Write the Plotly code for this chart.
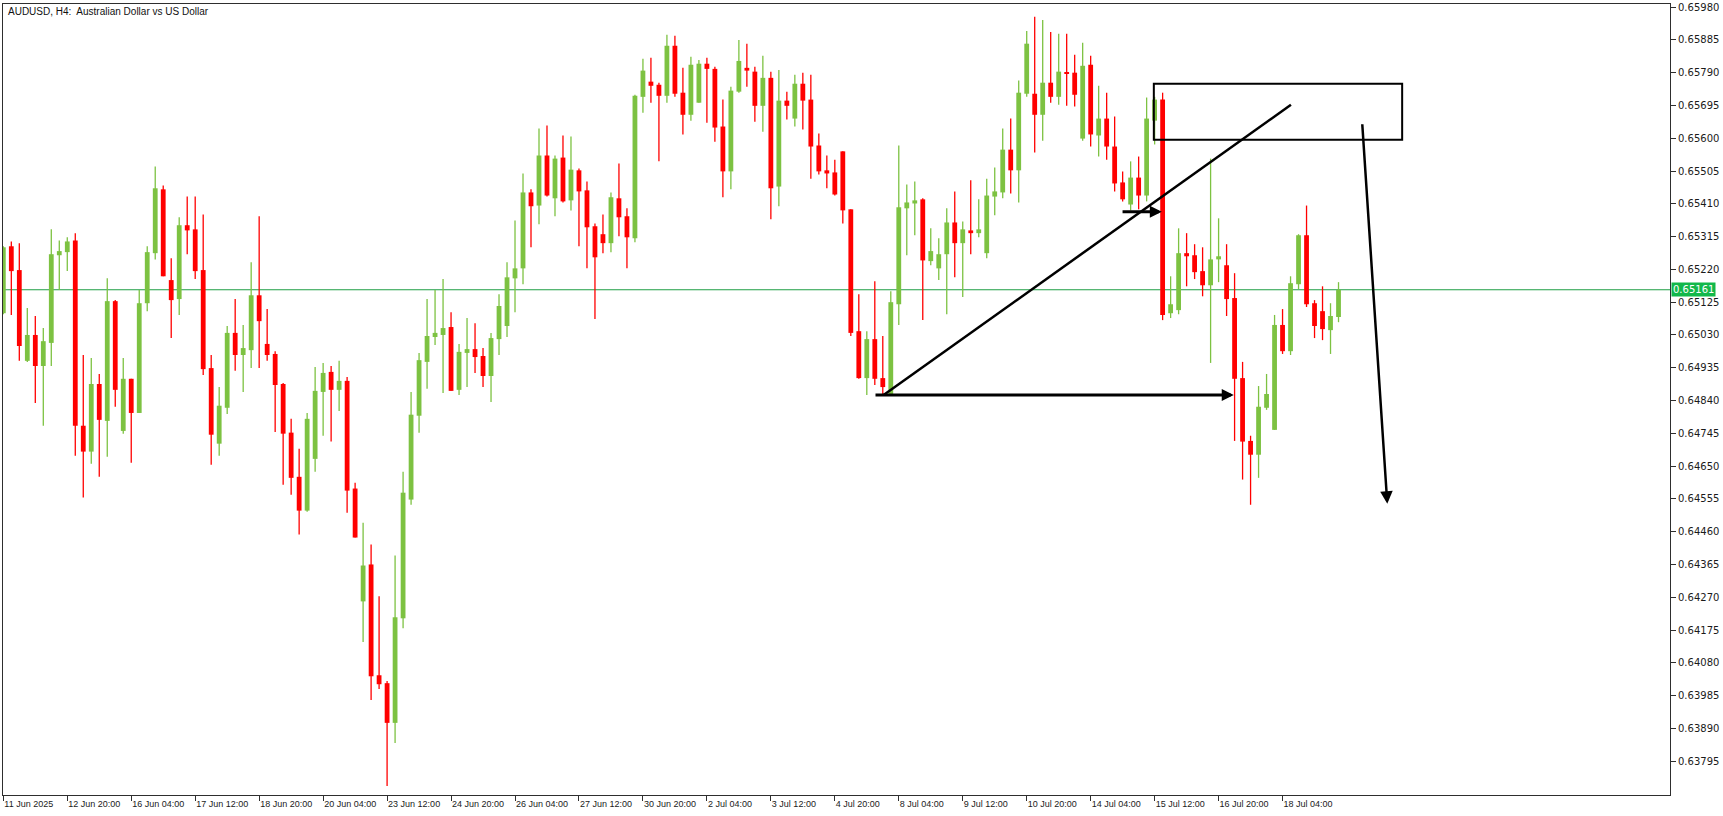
import plotly.graph_objects as go

title_text = "AUDUSD, H4:  Australian Dollar vs US Dollar"

opens = [0.65093, 0.65287, 0.65218, 0.64955, 0.65030, 0.64940, 0.65007, 0.65261, 0.65270, 0.65304,
         0.64767, 0.64692, 0.64888, 0.64781, 0.65128, 0.64752, 0.64903, 0.64804, 0.65122, 0.65267,
         0.65452, 0.65189, 0.65134, 0.65348, 0.65336, 0.65218, 0.64934, 0.64715, 0.64819, 0.65036,
         0.64972, 0.64986, 0.65145, 0.65004, 0.64975, 0.64888, 0.64747, 0.64619, 0.64521, 0.64671,
         0.64865, 0.64923, 0.64871, 0.64897, 0.64585, 0.64258, 0.64365, 0.64044, 0.64021, 0.63906,
         0.64209, 0.64553, 0.64796, 0.64952, 0.65024, 0.65030, 0.65053, 0.64871, 0.64978, 0.64989,
         0.64969, 0.64911, 0.65018, 0.65056, 0.65194, 0.65223, 0.65443, 0.65405, 0.65550, 0.65426,
         0.65544, 0.65420, 0.65507, 0.65449, 0.65345, 0.65322, 0.65296, 0.65426, 0.65374, 0.65310,
         0.65720, 0.65764, 0.65755, 0.65723, 0.65868, 0.65732, 0.65668, 0.65703, 0.65816, 0.65801,
         0.65634, 0.65504, 0.65735, 0.65804, 0.65793, 0.65694, 0.65775, 0.65460, 0.65709, 0.65657,
         0.65758, 0.65712, 0.65579, 0.65507, 0.65501, 0.65562, 0.65394, 0.65041, 0.64905, 0.65018,
         0.64905, 0.64859, 0.65119, 0.65397, 0.65411, 0.65423, 0.65244, 0.65223, 0.65264, 0.65356,
         0.65296, 0.65333, 0.65325, 0.65267, 0.65431, 0.65443, 0.65567, 0.65507, 0.65729, 0.65729,
         0.65668, 0.65761, 0.65720, 0.65790, 0.65790, 0.65599, 0.65813, 0.65608, 0.65657, 0.65576,
         0.65472, 0.65408, 0.65486, 0.65434, 0.65651, 0.65712, 0.65093, 0.65102, 0.65267, 0.65261,
         0.65215, 0.65174, 0.65249, 0.65232, 0.65137, 0.64905, 0.64723, 0.64683, 0.64819, 0.64755,
         0.65059, 0.64983, 0.65177, 0.65319, 0.65122, 0.65099, 0.65044, 0.65082]

highs = [0.65287, 0.65301, 0.65296, 0.65108, 0.65085, 0.65050, 0.65336, 0.65304, 0.65313, 0.65325,
         0.64972, 0.64963, 0.64917, 0.65194, 0.65131, 0.64963, 0.64903, 0.65160, 0.65287, 0.65518,
         0.65463, 0.65252, 0.65371, 0.65431, 0.65431, 0.65379, 0.64972, 0.64879, 0.65056, 0.65134,
         0.65059, 0.65241, 0.65374, 0.65105, 0.64983, 0.64891, 0.64787, 0.64700, 0.64804, 0.64937,
         0.64949, 0.64940, 0.64955, 0.64908, 0.64602, 0.64486, 0.64423, 0.64273, 0.64027, 0.64391,
         0.64634, 0.64865, 0.64978, 0.65134, 0.65160, 0.65192, 0.65096, 0.65004, 0.65079, 0.65064,
         0.64992, 0.65036, 0.65148, 0.65241, 0.65362, 0.65498, 0.65452, 0.65628, 0.65637, 0.65550,
         0.65608, 0.65605, 0.65512, 0.65475, 0.65353, 0.65379, 0.65443, 0.65527, 0.65397, 0.65726,
         0.65830, 0.65833, 0.65761, 0.65900, 0.65897, 0.65804, 0.65836, 0.65827, 0.65833, 0.65807,
         0.65712, 0.65749, 0.65885, 0.65874, 0.65807, 0.65839, 0.65793, 0.65798, 0.65735, 0.65784,
         0.65790, 0.65784, 0.65614, 0.65550, 0.65538, 0.65562, 0.65394, 0.65148, 0.65041, 0.65186,
         0.65027, 0.65157, 0.65579, 0.65466, 0.65475, 0.65426, 0.65339, 0.65310, 0.65397, 0.65446,
         0.65359, 0.65478, 0.65423, 0.65483, 0.65515, 0.65628, 0.65657, 0.65767, 0.65911, 0.65952,
         0.65943, 0.65908, 0.65903, 0.65903, 0.65842, 0.65877, 0.65839, 0.65752, 0.65732, 0.65663,
         0.65504, 0.65533, 0.65547, 0.65718, 0.65720, 0.65732, 0.65200, 0.65339, 0.65325, 0.65293,
         0.65284, 0.65541, 0.65368, 0.65293, 0.65209, 0.64952, 0.64738, 0.64882, 0.64917, 0.65088,
         0.65105, 0.65200, 0.65322, 0.65405, 0.65131, 0.65171, 0.65122, 0.65183]

lows = [0.65090, 0.65088, 0.64955, 0.64952, 0.64833, 0.64767, 0.64940, 0.65160, 0.65215, 0.64680,
        0.64559, 0.64657, 0.64619, 0.64677, 0.64822, 0.64744, 0.64660, 0.64804, 0.65099, 0.65249,
        0.65200, 0.65021, 0.65088, 0.65264, 0.65192, 0.64914, 0.64654, 0.64680, 0.64801, 0.64926,
        0.64865, 0.64934, 0.64934, 0.64955, 0.64749, 0.64596, 0.64567, 0.64452, 0.64518, 0.64634,
        0.64738, 0.64721, 0.64810, 0.64515, 0.64443, 0.64140, 0.63972, 0.64004, 0.63723, 0.63848,
        0.64180, 0.64538, 0.64747, 0.64874, 0.65001, 0.64862, 0.64868, 0.64856, 0.64879, 0.64920,
        0.64879, 0.64836, 0.64972, 0.65024, 0.65096, 0.65177, 0.65284, 0.65351, 0.65431, 0.65374,
        0.65414, 0.65391, 0.65287, 0.65223, 0.65076, 0.65267, 0.65270, 0.65316, 0.65223, 0.65299,
        0.65674, 0.65703, 0.65533, 0.65703, 0.65720, 0.65611, 0.65651, 0.65703, 0.65645, 0.65590,
        0.65429, 0.65452, 0.65732, 0.65749, 0.65648, 0.65619, 0.65365, 0.65403, 0.65654, 0.65634,
        0.65625, 0.65483, 0.65495, 0.65455, 0.65434, 0.65353, 0.65027, 0.64903, 0.64856, 0.64885,
        0.64853, 0.64853, 0.65059, 0.65261, 0.65319, 0.65073, 0.65232, 0.65189, 0.65090, 0.65197,
        0.65140, 0.65264, 0.65313, 0.65252, 0.65377, 0.65426, 0.65440, 0.65414, 0.65720, 0.65559,
        0.65593, 0.65703, 0.65697, 0.65694, 0.65692, 0.65593, 0.65576, 0.65547, 0.65538, 0.65446,
        0.65417, 0.65391, 0.65394, 0.65417, 0.65582, 0.65073, 0.65079, 0.65090, 0.65171, 0.65192,
        0.65142, 0.64949, 0.65183, 0.65085, 0.64723, 0.64611, 0.64538, 0.64616, 0.64813, 0.64755,
        0.64975, 0.64972, 0.65163, 0.65111, 0.65021, 0.65015, 0.64975, 0.65067]

closes = [0.65284, 0.65215, 0.64998, 0.65030, 0.64940, 0.65012, 0.65264, 0.65273, 0.65301, 0.64767,
          0.64692, 0.64888, 0.64784, 0.65128, 0.64871, 0.64903, 0.64804, 0.65122, 0.65270, 0.65455,
          0.65200, 0.65131, 0.65348, 0.65333, 0.65215, 0.64931, 0.64741, 0.64825, 0.65036, 0.64972,
          0.64992, 0.65145, 0.65070, 0.64972, 0.64885, 0.64744, 0.64616, 0.64521, 0.64787, 0.64868,
          0.64920, 0.64871, 0.64897, 0.64579, 0.64443, 0.64362, 0.64041, 0.64018, 0.63906, 0.64212,
          0.64573, 0.64799, 0.64957, 0.65027, 0.65036, 0.65050, 0.64868, 0.64981, 0.64989, 0.64966,
          0.64911, 0.65021, 0.65114, 0.65197, 0.65223, 0.65443, 0.65403, 0.65550, 0.65434, 0.65541,
          0.65417, 0.65509, 0.65446, 0.65342, 0.65255, 0.65296, 0.65429, 0.65371, 0.65313, 0.65723,
          0.65796, 0.65752, 0.65723, 0.65868, 0.65729, 0.65668, 0.65813, 0.65816, 0.65801, 0.65631,
          0.65504, 0.65738, 0.65824, 0.65796, 0.65694, 0.65775, 0.65455, 0.65709, 0.65694, 0.65758,
          0.65709, 0.65576, 0.65504, 0.65498, 0.65437, 0.65391, 0.65036, 0.64905, 0.65018, 0.64903,
          0.64879, 0.65125, 0.65400, 0.65414, 0.65420, 0.65246, 0.65273, 0.65264, 0.65356, 0.65296,
          0.65336, 0.65325, 0.65336, 0.65434, 0.65446, 0.65567, 0.65507, 0.65732, 0.65874, 0.65668,
          0.65761, 0.65720, 0.65793, 0.65787, 0.65726, 0.65810, 0.65611, 0.65657, 0.65576, 0.65469,
          0.65423, 0.65486, 0.65434, 0.65657, 0.65712, 0.65088, 0.65119, 0.65267, 0.65258, 0.65212,
          0.65174, 0.65249, 0.65258, 0.65134, 0.64903, 0.64721, 0.64683, 0.64822, 0.64859, 0.65059,
          0.64983, 0.65180, 0.65319, 0.65119, 0.65056, 0.65047, 0.65085, 0.65161]

last_price = 0.65161

ytick_labels = ["0.63795", "0.63890", "0.63985", "0.64080", "0.64175", "0.64270", "0.64365",
                "0.64460", "0.64555", "0.64650", "0.64745", "0.64840", "0.64935", "0.65030",
                "0.65125", "0.65220", "0.65315", "0.65410", "0.65505", "0.65600", "0.65695",
                "0.65790", "0.65885", "0.65980"]

xtick_labels = ["11 Jun 2025", "12 Jun 20:00", "16 Jun 04:00", "17 Jun 12:00", "18 Jun 20:00",
                "20 Jun 04:00", "23 Jun 12:00", "24 Jun 20:00", "26 Jun 04:00", "27 Jun 12:00",
                "30 Jun 20:00", "2 Jul 04:00", "3 Jul 12:00", "4 Jul 20:00", "8 Jul 04:00",
                "9 Jul 12:00", "10 Jul 20:00", "14 Jul 04:00", "15 Jul 12:00", "16 Jul 20:00",
                "18 Jul 04:00"]
bars_per_label = 8

# hand-drawn analysis objects (bar index, price)
zone_x = [143.9, 174.96]
zone_y = [0.65596, 0.65758]
trend_x = [110.1, 161.05]
trend_y = [0.64856, 0.65697]
low_arrow_x = [108.9, 153.9]
low_arrow_y = [0.64856, 0.64856]
break_arrow_x = [139.8, 144.9]
break_arrow_y = [0.65387, 0.65387]
down_arrow_x = [169.96, 173.1]
down_arrow_y = [0.65645, 0.64541]

GREEN = "#7DC242"
RED = "#FF0000"
AXIS = "#2E2E2E"

n = len(opens)
idx = list(range(n))
up = [c >= o for o, c in zip(opens, closes)]
colors = [GREEN if u else RED for u in up]
bases = [min(o, c) for o, c in zip(opens, closes)]
heights = [max(abs(c - o), 0.00002) for o, c in zip(opens, closes)]

fig = go.Figure()

for col, flag in ((GREEN, True), (RED, False)):
    wx, wy = [], []
    for i in idx:
        if up[i] == flag:
            wx += [i, i, None]
            wy += [lows[i], highs[i], None]
    fig.add_trace(go.Scatter(x=wx, y=wy, mode="lines", line=dict(color=col, width=1.3),
                             hoverinfo="skip", showlegend=False))

fig.add_trace(go.Bar(x=idx, y=heights, base=bases, width=0.6,
                     marker=dict(color=colors, line=dict(width=0)), showlegend=False))

ytick_vals = [float(t) for t in ytick_labels]
xtick_vals = [k * bars_per_label for k in range(len(xtick_labels))]

fig.update_layout(
    width=1723, height=816,
    margin=dict(l=2, r=53, t=2, b=21),
    paper_bgcolor="white", plot_bgcolor="white",
    showlegend=False, barmode="overlay",
    xaxis=dict(range=[-0.04, 208.46], tickmode="array", tickvals=xtick_vals, ticktext=xtick_labels,
               ticks="outside", ticklen=5, tickcolor=AXIS, tickwidth=1, tickangle=0,
               ticklabelposition="outside right", ticklabeloverflow="allow",
               tickfont=dict(family="Liberation Sans", size=9, color="#1a1a1a"),
               showgrid=False, zeroline=False, showline=True, mirror=True,
               linecolor=AXIS, linewidth=1, fixedrange=True),
    yaxis=dict(side="right", range=[0.63697, 0.65989], tickmode="array", tickvals=ytick_vals,
               ticktext=ytick_labels, ticklabeloverflow="allow",
               ticks="outside", ticklen=5, tickcolor=AXIS, tickwidth=1,
               tickfont=dict(family="DejaVu Sans", size=10, color="#1a1a1a"),
               showgrid=False, zeroline=False, showline=True, mirror=True,
               linecolor=AXIS, linewidth=1, fixedrange=True),
)

# current price line
fig.add_shape(type="line", xref="paper", x0=0, x1=1, yref="y", y0=last_price, y1=last_price,
              line=dict(color="#1E9E45", width=1), layer="below")

# drawings
fig.add_shape(type="rect", x0=zone_x[0], x1=zone_x[1], y0=zone_y[0], y1=zone_y[1],
              line=dict(color="black", width=2), fillcolor="rgba(0,0,0,0)")
fig.add_shape(type="line", x0=trend_x[0], x1=trend_x[1], y0=trend_y[0], y1=trend_y[1],
              line=dict(color="black", width=2.5))

for ax_, ay_, w, s in ((low_arrow_x, low_arrow_y, 3, 0.8),
                       (break_arrow_x, break_arrow_y, 3, 0.8),
                       (down_arrow_x, down_arrow_y, 2.5, 1.0)):
    fig.add_annotation(x=ax_[1], y=ay_[1], ax=ax_[0], ay=ay_[0], xref="x", yref="y",
                       axref="x", ayref="y", text="", showarrow=True, arrowhead=2,
                       arrowsize=s, arrowwidth=w, arrowcolor="black", standoff=0)

# title
fig.add_annotation(xref="paper", yref="paper", x=0, y=1, xanchor="left", yanchor="middle",
                   xshift=3, yshift=-7, text=title_text, showarrow=False,
                   font=dict(family="Liberation Sans", size=10, color="#111111"))

# last price tag
fig.add_annotation(xref="paper", yref="y", x=1, y=last_price, xanchor="left", yanchor="middle",
                   xshift=1, text=f"{last_price:.5f}", showarrow=False, bgcolor="#12B84A",
                   borderpad=1, font=dict(family="DejaVu Sans", size=10, color="white"))

fig.write_html("out.html", config={"displayModeBar": False},
               post_script="document.body.style.margin='0px';document.body.style.overflow='hidden';")
